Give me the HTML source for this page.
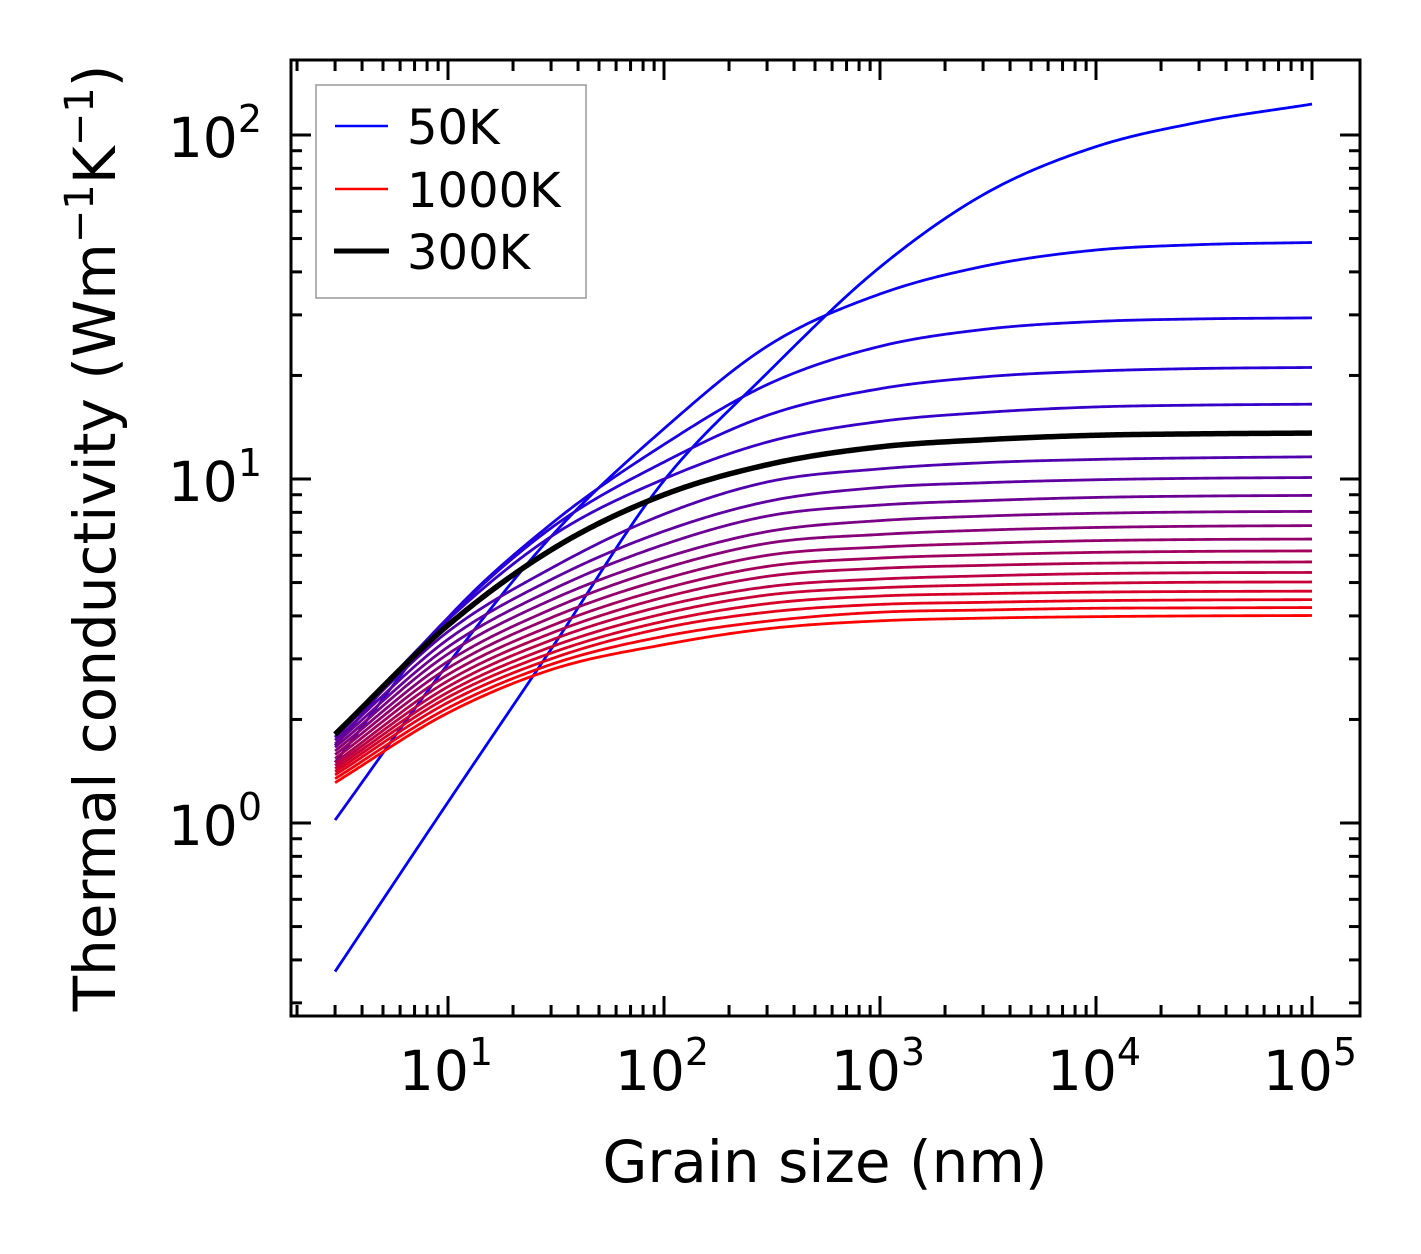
<!DOCTYPE html>
<html><head><meta charset="utf-8"><style>
html,body{margin:0;padding:0;background:#fff;}
svg{display:block;font-family:"DejaVu Sans","Liberation Sans",sans-serif;}
</style></head><body>
<svg id="chart" width="1421" height="1254" viewBox="0 0 1421 1254" xmlns="http://www.w3.org/2000/svg">
<rect x="0" y="0" width="1421" height="1254" fill="#fff"/>
<g id="curves"></g>
<g id="ticks"></g>
<rect x="291" y="60" width="1069" height="956" fill="none" stroke="#000" stroke-width="3"/>
<g id="legend">
<rect x="316" y="85" width="270" height="213" fill="#fff" stroke="#999" stroke-width="1.5"/>
<line x1="335" y1="126" x2="388" y2="126" stroke="#0000ff" stroke-width="2.5"/>
<text x="407" y="144" font-size="48">50K</text>
<line x1="335" y1="189" x2="388" y2="189" stroke="#ff0000" stroke-width="2.5"/>
<text x="407" y="207" font-size="48">1000K</text>
<line x1="334" y1="251" x2="389" y2="251" stroke="#000" stroke-width="5"/>
<text x="407" y="269" font-size="48">300K</text>
</g>
<text x="825" y="1182" font-size="58" text-anchor="middle">Grain size (nm)</text>
<text transform="translate(115,538) rotate(-90)" font-size="58" text-anchor="middle">Thermal conductivity (Wm<tspan font-size="40" dy="-22">−1</tspan><tspan dy="22">K</tspan><tspan font-size="40" dy="-22">−1</tspan><tspan dy="22">)</tspan></text>
</svg>
<script>
const grainSizes = [3, 10, 30, 100, 300, 1000, 3000, 10000, 30000, 100000];
const temps = [50,100,150,200,250,300,350,400,450,500,550,600,650,700,750,800,850,900,950,1000];
const k50 = [0.37,1.15,3.2,9.9,20.3,41.3,67,92.5,109,123];
const k100 = [1.02,2.9,6.8,14.0,24.3,34.5,41.5,46.3,48.0,48.7];
const k150 = [1.5,3.95,7.4,12.6,18.8,24.3,27.2,28.7,29.2,29.4];
const k200 = [1.68,3.95,7.2,11.2,15.3,18.3,19.8,20.6,20.95,21.1];
const k250 = [1.77,3.9,6.8,10.0,12.8,14.7,15.6,16.2,16.4,16.5];
const k300 = [1.81,3.76,6.22,9.0,11.0,12.4,13.0,13.4,13.53,13.6];
const k350 = [1.78,3.6,5.5,7.9,9.8,10.7,11.15,11.4,11.52,11.6];
const k400 = [1.74,3.42,5.1,7.05,8.6,9.45,9.75,9.95,10.05,10.1];
const k450 = [1.70,3.25,4.75,6.45,7.8,8.4,8.65,8.84,8.92,8.96];
const k500 = [1.66,3.1,4.45,5.9,7.03,7.57,7.8,7.95,8.02,8.05];
const k550 = [1.62,2.95,4.18,5.5,6.5,6.9,7.1,7.23,7.29,7.32];
const k600 = [1.58,2.82,3.95,5.12,6.0,6.34,6.5,6.62,6.67,6.69];
const k650 = [1.54,2.7,3.74,4.8,5.57,5.89,6.02,6.12,6.16,6.18];
const k700 = [1.50,2.59,3.56,4.53,5.21,5.5,5.61,5.69,5.72,5.74];
const k750 = [1.47,2.49,3.4,4.28,4.86,5.12,5.23,5.31,5.34,5.35];
const k800 = [1.44,2.4,3.25,4.06,4.6,4.83,4.92,4.98,5.01,5.02];
const k850 = [1.41,2.32,3.12,3.86,4.34,4.57,4.64,4.69,4.71,4.72];
const k900 = [1.38,2.24,3.0,3.69,4.1,4.32,4.38,4.43,4.45,4.46];
const k950 = [1.345,2.16,2.89,3.49,3.86,4.1,4.16,4.21,4.22,4.23];
const k1000 = [1.31,2.09,2.79,3.3,3.67,3.87,3.94,3.98,4.0,4.01];
const series = [k50,k100,k150,k200,k250,k300,k350,k400,k450,k500,k550,k600,k650,k700,k750,k800,k850,k900,k950,k1000];
const highlightSeries = k300;
const xTickExps = [1,2,3,4,5];
const yTickExps = [0,1,2];

const NS = "http://www.w3.org/2000/svg";
const PL = 291, PR = 1360, PT = 60, PB = 1016;
const XLMIN = 0.2731, XLMAX = 5.2222, YLMIN = -0.561, YLMAX = 2.218;
function xScale(v){ return PL + (Math.log10(v) - XLMIN) / (XLMAX - XLMIN) * (PR - PL); }
function yScale(v){ return PB - (Math.log10(v) - YLMIN) / (YLMAX - YLMIN) * (PB - PT); }

function curvePath(xs, ys){
  const lx = xs.map(Math.log10), ly = ys.map(Math.log10), n = lx.length;
  const sec = []; for (let i=0;i<n-1;i++) sec.push((ly[i+1]-ly[i])/(lx[i+1]-lx[i]));
  const m = [];
  for (let i=0;i<n;i++){
    if(i===0) m.push(sec[0]);
    else if(i===n-1) m.push(sec[n-2]);
    else {
      const a = sec[i-1], b = sec[i];
      if (a*b <= 0) m.push(0);
      else { const w1 = lx[i+1]-lx[i], w0 = lx[i]-lx[i-1]; m.push((w1*a + w0*b)/(w0+w1)); }
    }
  }
  let d = "";
  for (let i=0;i<n-1;i++){
    const h = lx[i+1]-lx[i];
    for (let s=0;s<=40;s++){
      if (i>0 && s===0) continue;
      const t = s/40, t2=t*t, t3=t2*t;
      const yy = (2*t3-3*t2+1)*ly[i] + (t3-2*t2+t)*h*m[i] + (-2*t3+3*t2)*ly[i+1] + (t3-t2)*h*m[i+1];
      const xx = lx[i] + t*h;
      const px = xScale(Math.pow(10,xx)), py = yScale(Math.pow(10,yy));
      d += (d ? "L" : "M") + px.toFixed(2) + "," + py.toFixed(2);
    }
  }
  return d;
}

const cg = document.getElementById("curves");
series.forEach((ys, i) => {
  const t = i/(series.length-1);
  const p = document.createElementNS(NS, "path");
  p.setAttribute("d", curvePath(grainSizes, ys));
  p.setAttribute("fill", "none");
  p.setAttribute("stroke", `rgb(${Math.round(255*t)},0,${Math.round(255*(1-t))})`);
  p.setAttribute("stroke-width", "2.8");
  
  
  cg.appendChild(p);
});
const hp = document.createElementNS(NS, "path");
hp.setAttribute("d", curvePath(grainSizes, highlightSeries));
hp.setAttribute("fill", "none");
hp.setAttribute("stroke", "#000");
hp.setAttribute("stroke-width", "5.5");


cg.appendChild(hp);

const tg = document.getElementById("ticks");
function tick(x1,y1,x2,y2,name){
  const l = document.createElementNS(NS,"line");
  l.setAttribute("x1",x1); l.setAttribute("y1",y1); l.setAttribute("x2",x2); l.setAttribute("y2",y2);
  l.setAttribute("stroke","#000"); l.setAttribute("stroke-width","3");
  
  
  tg.appendChild(l);
}
function label(x,y,exp,anchor,name){
  const t = document.createElementNS(NS,"text");
  t.setAttribute("x",x); t.setAttribute("y",y); t.setAttribute("font-size","55"); t.setAttribute("text-anchor",anchor);
  t.innerHTML = '10<tspan font-size="38" dy="-25">' + exp + '</tspan>';
  
  
  tg.appendChild(t);
}
for (let e=0;e<=5;e++){
  for (let k=1;k<=9;k++){
    const v = k*Math.pow(10,e), x = xScale(v);
    if (x < PL+1 || x > PR-1) continue;
    const len = k===1 ? 20 : 11;
    tick(x,PB,x,PB-len,'x-tick'); tick(x,PT,x,PT+len,'x-tick-top');
  }
}
for (let e=-1;e<=2;e++){
  for (let k=1;k<=9;k++){
    const v = k*Math.pow(10,e), y = yScale(v);
    if (y < PT+1 || y > PB-1) continue;
    const len = k===1 ? 20 : 11;
    tick(PL,y,PL+len,y,'y-tick'); tick(PR,y,PR-len,y,'y-tick-right');
  }
}
xTickExps.forEach(e => label(xScale(Math.pow(10,e))-2, 1090, e, "middle", 'x-tick-label'));
yTickExps.forEach(e => label(262, yScale(Math.pow(10,e))+22, e, "end", 'y-tick-label'));
</script>
</body></html>
